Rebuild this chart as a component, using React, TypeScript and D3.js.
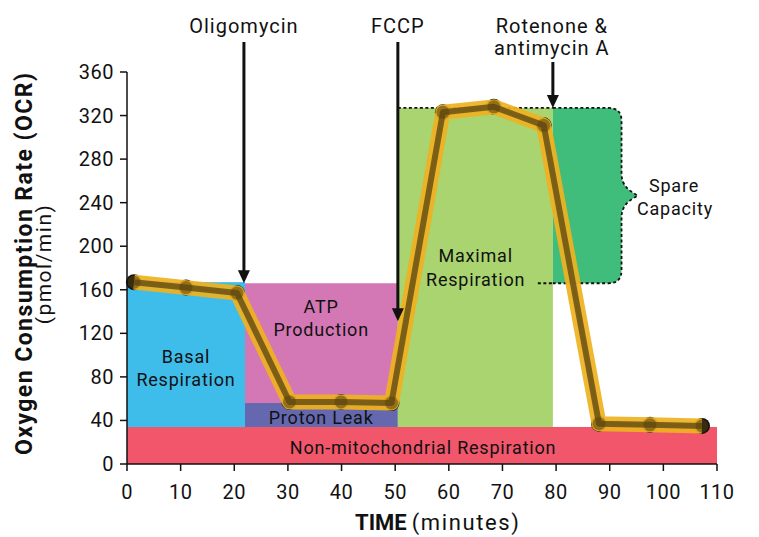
import React from "react";
import * as d3 from "d3";

const times = [1.3, 11, 20.5, 30.3, 39.9, 49.3, 58.9, 68.4, 77.7, 88, 97.5, 107.2];
const ocr = [167, 162, 157, 57, 57, 56, 323, 328, 311, 37, 36, 35];

const xTicks = [0, 10, 20, 30, 40, 50, 60, 70, 80, 90, 100, 110];
const yTicks = [0, 40, 80, 120, 160, 200, 240, 280, 320, 360];

const regionNames = ["nonMito", "basal", "atp", "proton", "maximal"];
const regionX0 = [0, 0, 22, 22, 50.5];
const regionX1 = [110, 22, 50.5, 50.5, 79.4];
const regionY0 = [0, 34, 56, 34, 34];
const regionY1 = [34, 167, 166, 56, 327];
const regionColors = ["#f1566b", "#3ebdeb", "#d378b5", "#6568ae", "#a9d46f"];

const spareX = [79.4, 92.2, 95.2];
const spareY = [166, 327];

const injTimes = [21.8, 50.5, 79.4];
const injTips = [166, 131, 327];
const injLabels = [["Oligomycin"], ["FCCP"], ["Rotenone &", "antimycin A"]];

const W = 759;
const H = 537;
const FONT = "Roboto, 'DejaVu Sans', sans-serif";

export default function App() {
  const x = d3.scaleLinear().domain([0, 110]).range([127, 717]);
  const y = d3.scaleLinear().domain([0, 360]).range([464, 72]);

  const pts: [number, number][] = times.map((t, i) => [x(t), y(ocr[i])]);
  const line = d3.line<[number, number]>()(pts) || "";

  // spare capacity brace
  const xL = x(spareX[0]);
  const xR = x(spareX[1]);
  const xT = x(spareX[2]);
  const yT = y(spareY[1]);
  const yB = y(spareY[0]);
  const yM = (yT + yB) / 2;
  const r = 13;
  const p = d3.path();
  p.moveTo(xL, yT);
  p.lineTo(xR - r, yT);
  p.quadraticCurveTo(xR, yT, xR, yT + r);
  p.lineTo(xR, yM - 22);
  p.bezierCurveTo(xR, yM - 8, xT - 6, yM - 4, xT, yM);
  p.bezierCurveTo(xT - 6, yM + 4, xR, yM + 8, xR, yM + 22);
  p.lineTo(xR, yB - r);
  p.quadraticCurveTo(xR, yB, xR - r, yB);
  p.lineTo(xL, yB);
  const spareD = p.toString();

  const textStyle = { fontFamily: FONT, fill: "#111" } as const;

  return (
    <svg width={W} height={H} style={{ position: "absolute", left: 0, top: 0, background: "#fff" }}>
      {/* regions */}
      {regionNames.map((n, i) => (
        <rect
          key={n}
          x={x(regionX0[i])}
          y={y(regionY1[i])}
          width={x(regionX1[i]) - x(regionX0[i])}
          height={y(regionY0[i]) - y(regionY1[i])}
          fill={regionColors[i]}
        />
      ))}
      <path d={spareD + "Z"} fill="#41bd7b" stroke="none" />
      <path d={spareD} fill="none" stroke="#111" strokeWidth={1.8} strokeDasharray="3,2.5" />
      <line x1={x(50.5)} x2={xL} y1={yT} y2={yT} stroke="#111" strokeWidth={1.8} strokeDasharray="3,2.5" />
      <line x1={x(76.6)} x2={xL} y1={yB} y2={yB} stroke="#111" strokeWidth={1.8} strokeDasharray="3,2.5" />

      {/* region labels */}
      <g style={textStyle} fontSize={18} letterSpacing={0.8} textAnchor="middle">
        <text x={x(11)} y={363}>Basal</text>
        <text x={x(11)} y={386}>Respiration</text>
        <text x={x(36.2)} y={313}>ATP</text>
        <text x={x(36.2)} y={336}>Production</text>
        <text x={x(36.2)} y={424}>Proton Leak</text>
        <text x={x(55.2)} y={454}>Non-mitochondrial Respiration</text>
        <text x={x(65)} y={262}>Maximal</text>
        <text x={x(65)} y={286}>Respiration</text>
        <text x={674} y={192}>Spare</text>
        <text x={675} y={215}>Capacity</text>
      </g>

      {/* data line */}
      <path d={line} fill="none" stroke="#111" strokeWidth={3} />
      {pts.map((pt, i) => (
        <circle key={i} cx={pt[0]} cy={pt[1]} r={8} fill="#111" />
      ))}
      <path d={line} fill="none" stroke="#efb220" strokeWidth={15} strokeOpacity={0.93} strokeLinejoin="round" />
      <path d={line} fill="none" stroke="#6a5115" strokeWidth={6} strokeOpacity={0.85} strokeLinejoin="round" />
      {pts.map((pt, i) => (
        <circle key={"c" + i} cx={pt[0]} cy={pt[1]} r={6.5} fill="#5a430e" fillOpacity={0.55} />
      ))}

      {/* injection arrows */}
      {injTimes.map((t, i) => {
        const cx = x(t);
        const tip = y(injTips[i]);
        const start = injLabels[i].length > 1 ? 62 : 42;
        return (
          <g key={"inj" + i}>
            <line x1={cx} x2={cx} y1={start} y2={tip - 10} stroke="#111" strokeWidth={3} />
            <path d={`M${cx - 6},${tip - 13}L${cx + 6},${tip - 13}L${cx},${tip}Z`} fill="#111" />
            {injLabels[i].map((s, j) => (
              <text
                key={j}
                x={cx - (injLabels[i].length > 1 ? 1 : 0)}
                y={33 + j * 22}
                textAnchor="middle"
                fontSize={20}
                letterSpacing={1}
                style={textStyle}
              >
                {s}
              </text>
            ))}
          </g>
        );
      })}

      {/* axes */}
      <line x1={127} x2={127} y1={y(360)} y2={y(0)} stroke="#111" strokeWidth={1.5} />
      <line x1={x(0)} x2={x(110)} y1={464} y2={464} stroke="#111" strokeWidth={1.5} />
      {yTicks.map((v) => (
        <g key={"y" + v}>
          <line x1={120} x2={127} y1={y(v)} y2={y(v)} stroke="#111" strokeWidth={1.5} />
          <text x={114} y={y(v) + 7} textAnchor="end" fontSize={20} letterSpacing={0.5} style={textStyle}>
            {v}
          </text>
        </g>
      ))}
      {xTicks.map((v) => (
        <g key={"x" + v}>
          <line x1={x(v)} x2={x(v)} y1={464} y2={471} stroke="#111" strokeWidth={1.5} />
          <text x={x(v)} y={499} textAnchor="middle" fontSize={20} letterSpacing={0.5} style={textStyle}>
            {v}
          </text>
        </g>
      ))}

      {/* axis titles */}
      <text
        transform="translate(32,264) rotate(-90)"
        textAnchor="middle"
        fontSize={23}
        fontWeight="bold"
        textLength={382}
        lengthAdjust="spacing"
        style={textStyle}
      >
        Oxygen Consumption Rate (OCR)
      </text>
      <text
        transform="translate(51,264) rotate(-90)"
        textAnchor="middle"
        fontSize={21}
        letterSpacing={1.5}
        style={textStyle}
      >
        (pmol/min)
      </text>
      <text x={355} y={530} fontSize={22} style={textStyle}>
        <tspan fontWeight="bold">TIME</tspan>
        <tspan dx={5} letterSpacing={1.6}>(minutes)</tspan>
      </text>
    </svg>
  );
}
